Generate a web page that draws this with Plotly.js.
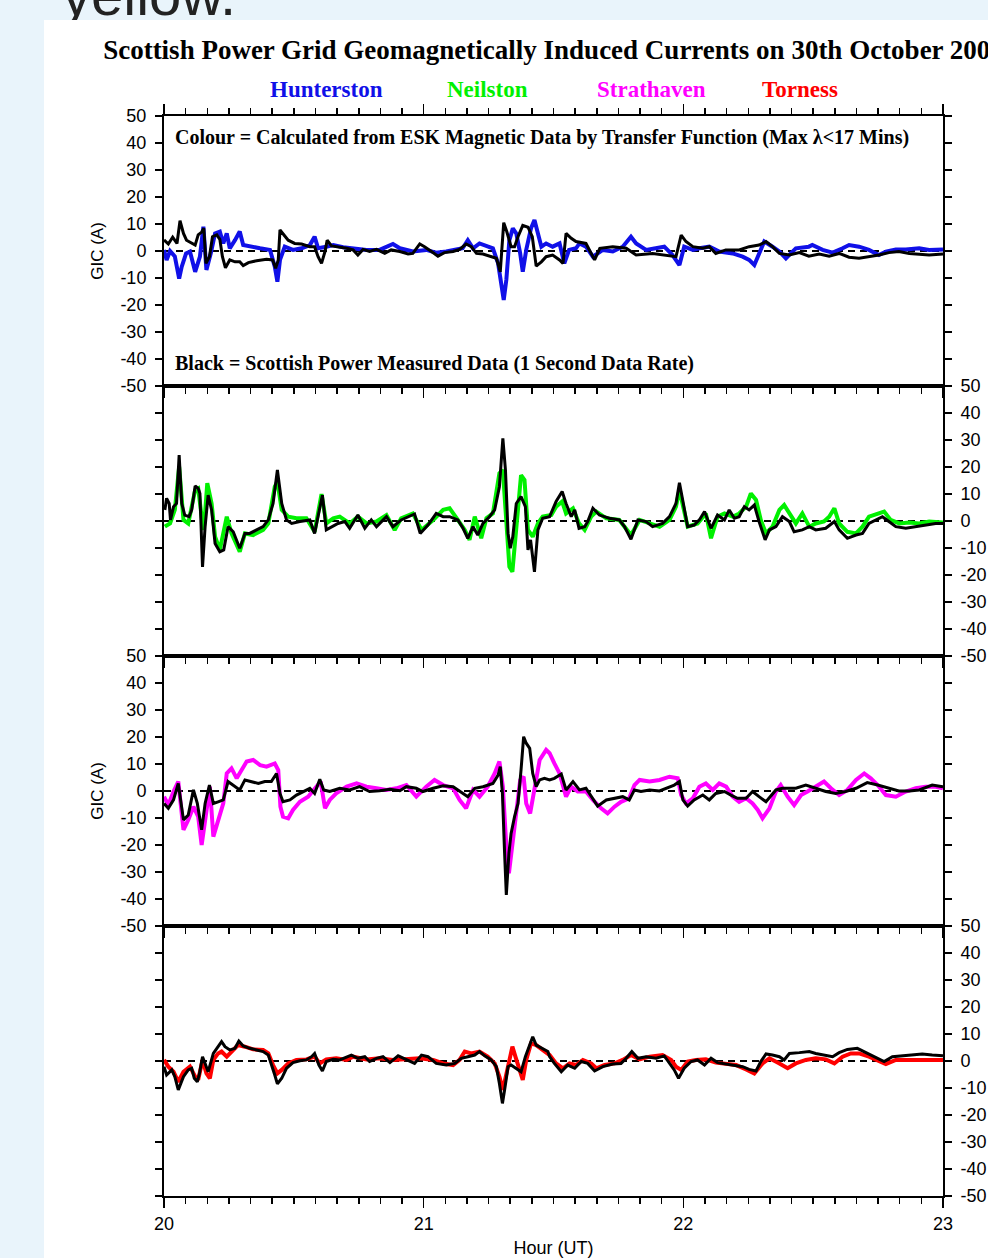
<!DOCTYPE html>
<html>
<head>
<meta charset="utf-8">
<script src="https://cdn.plot.ly/plotly-3.0.1.min.js"></script>
<style>
  html, body { margin: 0; padding: 0; width: 988px; height: 1258px; overflow: hidden; background: #e9f4fb; }
  #yellow { position: absolute; left: 62px; top: -34px; font-family: "Liberation Sans", Arial, sans-serif; font-size: 58px; line-height: 58px; color: #222; white-space: nowrap; }
  #sheet { position: absolute; left: 44px; top: 20px; right: 0; bottom: 0; background: #ffffff; }
  #chart { position: absolute; left: 0; top: 0; width: 1100px; height: 1300px; }
</style>
</head>
<body>
<div id="yellow">yellow.</div>
<div id="sheet"></div>
<div id="chart"></div>
<script>
// ---- Data: [minutes after 20:00 UT, GIC in A] ----
const stations = ["Hunterston", "Neilston", "Strathaven", "Torness"];
const stationColours = ["#1010e8", "#00f000", "#ff00ff", "#ff0000"];
const hourTicks = [20, 21, 22, 23];
const gicTicks = [-50, -40, -30, -20, -10, 0, 10, 20, 30, 40, 50];

const hunterstonMeasured = [[0,4.1],[1,2.6],[2,5.1],[3,2.8],[3.7,11.2],[4.5,6.5],[5.2,4],[6.4,2.8],[7.2,2.2],[7.9,6],[8.7,7],[9.2,8.4],[9.7,-4.6],[10.5,-2.1],[11.2,5.3],[12.2,6],[12.9,4.3],[13.5,-2.1],[14.2,-6.2],[15.2,-3.3],[16.4,-4],[17.5,-4],[18.3,-5.4],[19.5,-4.3],[21.4,-3.6],[23.7,-3.1],[25.1,-3.3],[25.8,-6.4],[26.4,-3.3],[26.8,7.8],[27.5,6.5],[28.7,4],[30.2,2.8],[31.8,2.6],[33.7,1.6],[34.8,1.6],[35.6,-2.1],[36.4,-4.6],[37.2,-0.2],[37.7,4],[38.7,1.9],[40.2,1.6],[42.2,1],[43.7,0.4],[44.8,-1.5],[46,0.6],[47.5,-0.2],[49.1,0.6],[51,-0.9],[52.5,0.4],[54.5,-0.2],[56.4,-1.1],[57.5,-0.9],[59.1,2.6],[60.2,1.6],[61.8,-0.2],[63.3,-1.9],[64.8,-0.6],[66.8,-0.2],[68.3,0.6],[69.8,2.6],[71,1.6],[72.2,-0.9],[73.7,-1.1],[75.6,-2.1],[76.8,-2.7],[77.7,-7.7],[78.5,10.5],[79.2,7.2],[80.2,1.6],[81,1.6],[81.8,5.3],[82.9,9.5],[84.1,8.8],[85.1,5.3],[86,-5.6],[87.2,-4],[88.3,-2.1],[89.8,-1.5],[91.4,-3.3],[92.2,-4.6],[92.9,6.5],[94.1,4.7],[95.2,3.5],[97.5,2.8],[99.5,-3.3],[100.7,1],[103.7,1.6],[106.8,1],[109.1,-1.5],[112.9,-0.9],[116,-1.5],[118.3,-2.1],[119.5,5.9],[120.6,3.5],[122.2,1.6],[124.5,1],[126,1.6],[127.5,-0.9],[129.8,0.4],[132.9,0.4],[135.2,1.6],[137.5,2.2],[139.1,3.5],[140.6,1.6],[142.2,-0.9],[144.5,-1.5],[146.8,-0.6],[149,-1.9],[151.4,-1.1],[153.7,-1.9],[156,-0.9],[158.3,-2.3],[160.6,-2.7],[162.9,-2.1],[165.2,-1.5],[167.5,-0.6],[169.8,-0.2],[172.2,-0.9],[174.5,-1.1],[176.8,-1.5],[180,-1.1]];

const hunterstonCalculated = [[0,0.4],[0.6,-3.3],[1.4,0],[2.5,-2],[3.5,-10.2],[4.1,-5.8],[5.1,-0.9],[6,-0.2],[7.2,-7.7],[8.3,-2.1],[9.1,9],[9.8,-7],[10.8,-0.9],[11.8,6.5],[12.9,7.2],[13.7,2.8],[14.5,6.5],[15.2,1],[16.4,4],[17.5,7.2],[18.3,2.2],[19.8,1.6],[22.2,1],[24.5,0.4],[25.6,-5.8],[26.2,-11.4],[26.8,-3.3],[27.9,1.6],[29.8,0.4],[31.8,1],[33.7,2.2],[34.8,5.3],[35.6,1],[37.5,1.6],[39.1,2.2],[41.4,1.4],[43.7,1],[46.8,0.4],[49.8,0.4],[52.9,2.6],[54.5,1],[57.5,-0.2],[60.6,0.4],[62.9,-0.6],[65.2,-0.2],[67.5,0.4],[69,1],[70.2,4],[71.4,1],[72.9,2.8],[74.5,1.9],[76,1],[77.2,-4.6],[77.9,-13.2],[78.5,-18.1],[79.1,-10.7],[79.8,4],[80.6,8.4],[81.4,6.5],[82.3,-0.9],[82.9,-7.7],[83.7,0.4],[84.8,8.4],[85.6,11.5],[86.4,6.5],[87.2,1.6],[88.3,2.8],[89.8,1.6],[91.4,2.8],[92.5,-4.6],[93.6,0.4],[95.2,1],[96,2.8],[97.5,1.6],[99.1,-2.1],[101.4,0.4],[103.7,-0.2],[106,1.6],[107.9,5.3],[109.1,2.8],[111.4,0.4],[113.7,1],[115.6,1.6],[117.5,-1.5],[119.1,-5.2],[120.2,1.6],[122.2,0.4],[123.7,1],[126,1.6],[128.3,-0.2],[131.4,-0.9],[133.7,-2.1],[135.2,-3.3],[136.4,-5.2],[137.5,-0.9],[138.7,3.5],[140.6,1.6],[142.2,-0.2],[143.7,-2.7],[146,1],[149,1.6],[149.8,2.2],[152.2,0.4],[154.5,-0.6],[156.8,1],[158.3,2.2],[160.6,1.6],[162.9,0.4],[165.2,-1.5],[166.8,-0.2],[169.1,0.6],[171.4,0.6],[174.5,1],[176.8,0.4],[180,0.6]];

const neilstonMeasured = [[0.2,4.1],[0.6,8.4],[1.2,6.5],[1.5,0.4],[2.2,5.3],[2.9,6.5],[3.5,24.4],[4.1,6.5],[4.8,2.2],[5.8,1.6],[6.4,4.1],[7.2,13],[7.9,12.1],[8.3,10.2],[8.9,-17],[9.5,-2.1],[10.2,9.6],[11,4.1],[11.8,-8.3],[12.9,-11.4],[13.8,-10.7],[14.8,-2.1],[16,-4],[16.8,-7],[17.5,-10.1],[18.7,-4.6],[19.8,-4.6],[21.4,-3.3],[22.9,-2.1],[24.1,0.4],[25.2,6.5],[26.2,18.9],[27.2,6.5],[28.3,0.4],[29.5,-0.9],[31.4,-0.2],[33.7,0.4],[34.8,-4.6],[35.6,1.6],[36.6,9.6],[37.5,-3.3],[38.7,-2.1],[40.2,-0.9],[41.8,-0.2],[42.9,-2.7],[44.8,2.2],[46.4,-2.7],[47.9,0.4],[49.1,-2.1],[51.4,1.6],[52.9,-2.1],[54.8,0.4],[56.4,1.6],[57.9,2.6],[59.2,-4.6],[61,-1.5],[62.9,2.8],[64.5,1.6],[66,1.6],[66.8,1],[67.9,0.4],[69.1,-2.7],[70.2,-6.4],[71.4,-2.1],[72.5,-5.2],[73.7,-0.9],[75.2,1.6],[76.4,4.1],[77.5,12.7],[78.3,30.6],[78.9,18.9],[79.5,-4.6],[80,-10.1],[80.6,-5.8],[81.4,6.5],[82.5,9],[83.5,5.3],[84.1,-10.7],[84.7,-7],[85.6,-18.8],[86.4,-3.3],[87.5,1],[89.1,1.6],[90.6,7.2],[92,10.9],[92.9,6.5],[94.1,1.6],[94.9,4.1],[95.9,-2.7],[97.2,-2.1],[97.9,-0.2],[99.1,4.7],[100.6,2.2],[102.9,1],[105.2,0.4],[106.4,-2.1],[107.9,-6.8],[109.5,0.4],[111.4,-0.2],[112.9,-2.1],[115.2,-0.9],[116.8,1.6],[118.3,6.5],[119.1,14.2],[119.9,7.8],[121,-2.1],[122.5,-1.5],[123.7,0.4],[124.9,3.5],[126.4,-2.7],[127.9,2.2],[129.5,0.4],[130.6,4.1],[131.8,1],[132.9,1.6],[134.1,5.3],[135.2,4.1],[136.4,5.9],[137.5,-0.2],[138.9,-7],[139.9,-3.3],[141.4,-2.1],[142.9,1.6],[144.5,-0.2],[145.6,-4],[147.5,-3.3],[149.1,-2.1],[150.6,-3.3],[152.9,-2.7],[154.9,-0.2],[156,-3.3],[157.9,-6.4],[159.9,-5.2],[161.4,-4.6],[162.9,-0.9],[164.5,0.4],[166,1.6],[167.5,-0.2],[169.1,-2.1],[171.4,-2.7],[173.7,-2.1],[176,-1.5],[178.3,-0.9],[180,-0.9]];

const neilstonCalculated = [[0.2,-2.1],[1.4,-0.9],[2.5,4.1],[3.5,20.1],[4.5,0.4],[5.6,-0.9],[7.2,11.5],[7.9,12.1],[8.7,1.6],[9.2,-3.3],[10,14],[11,6.5],[11.8,-5.8],[12.9,-10.7],[14.5,1.6],[15.6,-4.6],[17.5,-11.4],[18.7,-4.6],[20.6,-5.2],[22.9,-3.3],[24.1,-0.9],[25.6,12.7],[26.2,14.6],[27.2,4.1],[28.7,1.6],[30.6,1],[32.9,1],[34.8,-4],[36.4,10],[37.5,-0.9],[39.1,1],[40.6,1.6],[42.9,-0.9],[44.8,1.6],[46.8,-0.9],[49.1,-0.2],[51.4,2.2],[53.3,-3.3],[54.8,1],[57.5,2.8],[59.5,-3.3],[62.2,0.4],[64.5,4.1],[66,4.7],[67.9,0.4],[69.5,-3.3],[70.6,-7],[71.8,1.6],[73.3,-6.4],[74.5,1],[76,2.8],[77.5,17.7],[78.3,18.9],[79.1,-3.3],[79.8,-16.9],[80.5,-18.8],[81.4,-3.3],[82.5,17],[83.3,15.2],[84.1,-3.3],[85.2,-5.8],[86.4,-0.9],[87.5,1.6],[89.5,2.2],[90.6,5.3],[92,7.2],[92.9,2.8],[94.5,4.7],[95.9,-0.9],[97.2,-3.3],[98.7,1.6],[99.9,3.5],[102.2,1],[105.2,0.4],[107.9,-5.2],[109.9,0.4],[112.2,-0.9],[114.5,-2.1],[116.8,0.4],[118.3,5.3],[119.1,11.5],[119.9,5.3],[121,-2.1],[123.3,-0.9],[125.2,2.8],[126.4,-6.4],[127.9,1.6],[129.5,2.8],[131.4,1.6],[132.9,2.8],[134.5,5.3],[135.6,10.2],[136.8,7.8],[137.9,0.4],[139.1,-4.6],[140.6,-2.1],[142.2,4.1],[143.3,5.9],[144.9,1.6],[146,-0.9],[147.5,2.8],[149.1,-2.1],[150.6,-0.9],[152.5,-0.2],[153.7,1.6],[154.9,4.7],[156,-0.9],[157.9,-4],[159.9,-4.6],[161.4,-2.1],[162.9,1.6],[164.8,2.8],[166.4,3.5],[167.9,0.4],[169.9,-0.9],[172.2,-0.6],[174.5,-0.9],[176.8,-0.2],[180,-0.6]];

const strathavenMeasured = [[0,-4.6],[1,-6.4],[2.2,-3.3],[3.3,2.8],[4.5,-10.7],[5.6,-8.9],[6.8,0.4],[7.7,-4.6],[8.7,-14.4],[9.5,-4.6],[10.5,2.2],[11.4,-4.6],[12.5,-4],[13.7,-3.3],[14.8,3.5],[16,2.2],[17.5,0.4],[18.7,4.1],[20.2,3.5],[21.8,2.8],[23.3,3.5],[24.8,3.5],[26,6.5],[26.8,-0.9],[27.5,-4],[29.1,-3.3],[30.6,-1.5],[32.2,-0.2],[33.7,1],[34.8,-0.9],[36,4.3],[36.9,0.4],[38.3,-0.2],[40.6,1],[42.9,0.4],[45.2,1.6],[47.5,-0.2],[49.8,0.1],[52.2,0.6],[54.5,0.1],[56,1.6],[58.3,1],[59.8,-0.2],[62.2,1],[64.5,1.9],[66.8,1.6],[69.1,-0.9],[70.2,-2.1],[71.8,1],[73.7,1.6],[76,2.8],[77.2,5.9],[77.7,9],[78.2,-0.9],[78.7,-23],[79.1,-38.5],[79.7,-23],[80.2,-15.7],[81,-9.5],[81.8,-4.6],[82.5,7.8],[83.1,20.1],[83.7,17.7],[84.5,15.8],[85.2,6.5],[86,1.6],[86.8,4.1],[87.9,4.7],[89.1,4.1],[90.2,4.7],[91.8,6.3],[92.9,0.4],[94.5,3.5],[96,0.4],[97.5,1],[98.7,-2.1],[100.2,-5.6],[102.2,-3.3],[104.5,-2.7],[106,-2.1],[107.5,-3.3],[108.7,0.4],[110.2,-0.2],[112.2,0.4],[114.5,0],[116.8,1.6],[117.9,2.2],[119.1,3.5],[119.9,-3.3],[121,-5.6],[122.5,-3.3],[124.5,-1.5],[126,-3.3],[127.5,-0.9],[129.5,-0.2],[131,-1.5],[132.5,-2.7],[134.5,-2.7],[136,-0.2],[137.5,-2.1],[139.1,-4],[141.4,0.4],[142.9,1],[146,1],[148.3,2.2],[150.6,1],[152.9,-0.2],[155.2,-0.9],[157.5,-0.2],[159.9,1],[162.5,3.1],[164.9,2.2],[167.5,1],[169.8,0],[172.2,0],[174.5,0.4],[177.5,2.2],[180,1.6]];

const strathavenCalculated = [[0,-2.1],[1,-5.2],[2.2,-0.2],[3.3,3.5],[4.5,-14.4],[5.6,-10.7],[6.8,-5.8],[7.9,-9.5],[8.7,-20],[9.8,-8.3],[10.6,1.6],[11.4,-16.9],[12.5,-10.7],[13.7,-4.6],[14.5,6.5],[15.6,8.4],[16.8,4.7],[17.9,7.8],[19.1,10.9],[20.6,11.5],[22.2,9.6],[23.7,9],[25.6,10.2],[26.4,7.8],[26.9,-5.8],[27.5,-9.5],[28.7,-10.1],[29.8,-7],[31.4,-4],[33.3,-2.1],[35.2,1.6],[36.2,3.5],[37.2,-6.4],[38.3,-3.3],[39.8,-0.9],[42.2,1.6],[44.5,2.8],[46.8,1.6],[49.1,1],[51.4,0.4],[53.7,1],[56,2.2],[58.3,-2.1],[60.6,1.6],[62.5,4.1],[64.5,2.2],[66.8,1],[68.3,-3.3],[69.8,-6.4],[71.4,0.4],[72.9,-2.1],[74.8,1.6],[76.4,6.5],[77.5,10.9],[78.3,1.6],[79.1,-20.6],[79.7,-30.5],[80.5,-20.6],[81.4,-7],[82.3,4.1],[83.1,5.3],[83.7,-4.6],[84.6,-8.3],[85.6,1.6],[86.8,11.5],[88.3,15.2],[89.1,14],[90.2,10.2],[91.4,6.5],[92.9,-2.1],[94.1,1.6],[95.6,-0.2],[97.5,-0.2],[99.1,-3.3],[101,-6.4],[102.5,-8.3],[104.1,-5.8],[105.6,-4],[107.5,-2.7],[108.7,2.2],[109.9,4.1],[112.2,3.5],[114.5,4.1],[116.8,5.3],[118.7,4.7],[119.5,-1.5],[120.6,-4.6],[122.2,-2.7],[123.7,1.6],[125.2,2.8],[126.8,0.4],[128.3,2.8],[129.9,1.6],[131.4,-2.1],[132.9,-4],[134.5,-2.7],[136,-4.6],[137.2,-7],[138.3,-10.1],[139.9,-6.4],[141.4,-0.2],[142.5,2.2],[144.1,-2.1],[145.6,-5.2],[147.2,-1.5],[148.7,-0.2],[150.6,1.6],[152.5,3.5],[154.1,1],[156,-1.5],[157.9,0.4],[159.9,4.1],[161.8,6.5],[163.3,4.7],[164.9,2.2],[166.8,-1.5],[169.1,-2.1],[171.4,-0.2],[173.7,1],[176,1.6],[178.3,1.6],[180,1]];

const tornessMeasured = [[0,-2.1],[0.6,-5.2],[1.8,-3.3],[2.5,-5.8],[3.3,-10.7],[4.5,-5.8],[5.6,-3.3],[6.4,-2.7],[7,-6.4],[7.7,-7.7],[8.2,-4.6],[8.9,1.6],[9.5,-0.9],[10.2,-4],[11.4,2.8],[12.5,5.6],[13.3,7.2],[14.1,5.3],[15.2,4.1],[16.4,4.7],[17.3,7.4],[18.3,5.6],[19.8,4.7],[21.4,4.1],[22.9,3.5],[24.1,2.2],[24.8,-0.9],[25.6,-5.2],[26.2,-8.5],[27.2,-6.4],[28.3,-2.7],[29.8,-0.6],[31.4,0.1],[32.9,0.4],[34.1,1.6],[34.8,2.8],[35.8,-1.5],[36.6,-3.7],[37.5,-0.2],[39.1,0.6],[40.6,0.4],[42.2,1.6],[43.3,2.2],[44.8,1],[46.4,1.6],[47.5,-0.2],[49.1,1],[50.6,1.6],[52.2,-0.6],[54.1,1.9],[56,0.6],[57.9,-0.9],[59.5,2.2],[61,1.6],[62.9,-0.9],[65.2,-1.5],[67.2,-0.9],[68.7,1],[70.2,1.6],[71.8,2.2],[72.9,3.5],[74.1,1.9],[75.6,0.4],[76.8,-2.1],[77.5,-8.3],[78.2,-15.7],[78.7,-10.7],[79.5,-2.1],[80.2,-1.5],[81.4,-2.7],[82.5,-4],[83.5,1.6],[84.4,5.3],[85.2,9],[86,5.9],[87.2,4.7],[88.7,3.5],[89.1,1.6],[90.2,-0.9],[91.8,-4],[93.3,-1.5],[94.9,-2.7],[96.4,-0.2],[97.9,-0.9],[99.5,-3.7],[101.4,-2.1],[103.7,-1.1],[105.6,-0.9],[106.8,1],[108.1,3.5],[109.5,1],[111.4,1.6],[113.7,1],[115.6,1.9],[116.8,-0.9],[117.9,-3.3],[118.9,-6.4],[120.2,-2.7],[121.8,-0.2],[123.3,0.4],[124.9,-1.5],[126.4,1],[127.9,-0.6],[129.9,-1.2],[131.8,-1.5],[133.7,-2.1],[135.2,-3.1],[136.8,-3.7],[137.9,-0.2],[139.1,2.6],[140.6,2.2],[142.2,1.6],[143.3,0.4],[144.5,2.8],[146.8,3.1],[149.1,3.5],[150.6,2.8],[152.5,2.2],[154.5,1.6],[156,3.1],[157.9,4.3],[160.2,4.7],[161.8,3.5],[164.1,1.6],[166.4,-0.2],[168.3,1.6],[170.6,1.9],[172.9,2.2],[175.2,2.6],[177.5,2.2],[180,1.9]];

const tornessCalculated = [[0,0.4],[1,-2.1],[2.2,-4],[3.3,-7.7],[4.5,-4],[6,-2.1],[7.2,-5.8],[7.9,-7],[8.9,0.4],[9.8,-4.6],[10.6,-6.4],[11.4,0.4],[12.5,2.8],[13.3,3.5],[14.5,1.6],[15.6,3.5],[17.1,5.9],[18.7,5.3],[20.6,4.3],[22.9,4.1],[24.1,2.8],[25.2,-1.5],[26.2,-4.6],[27.2,-3.3],[28.7,-0.9],[30.6,0.4],[32.9,0.6],[34.8,1.6],[36,-0.9],[37.5,0.6],[39.8,1],[42.2,0.4],[43.7,1.6],[46.8,0.6],[49.8,1],[52.9,0.4],[55.9,0.6],[59.1,1],[62.2,0.4],[64.5,-0.9],[66.8,-1.5],[68.3,0.4],[69.5,3.5],[71,2.8],[72.9,3.5],[74.8,1.6],[76.4,-0.9],[77.5,-5.8],[78.3,-10.7],[79.1,-5.2],[79.7,0.4],[80.5,5.3],[81.2,1.6],[82,-2.1],[82.9,-7],[83.7,0.4],[84.8,6.5],[86,5.9],[87.5,4.1],[89.1,2.2],[90.6,-0.9],[92.2,-2.7],[93.7,-0.9],[95.2,-1.5],[96.8,0.4],[98.7,-0.9],[99.9,-2.7],[101.8,-1.5],[104.1,-0.9],[106,0.4],[107.9,2.2],[109.9,0.6],[112.2,1.6],[115.2,2.2],[117.2,0.4],[118.3,-2.1],[119.5,-3.3],[121,-0.2],[122.9,0.4],[125.2,0.6],[127.5,-0.6],[129.9,-0.9],[132.2,-1.5],[134.5,-3.1],[136.4,-4.6],[138.3,-0.9],[139.9,1],[142.2,-0.9],[144.1,-2.7],[146,-0.9],[148.3,0.4],[150.6,1],[152.9,0.6],[154.9,-0.9],[156.8,1.6],[158.7,2.8],[160.6,2.8],[162.9,1.6],[165.2,-0.2],[166.8,-1.1],[169.1,0.4],[171.4,0.4],[173.7,0.6],[176.8,0.6],[180,0.4]];

const measuredSeries = [hunterstonMeasured, neilstonMeasured, strathavenMeasured, tornessMeasured];
const calculatedSeries = [hunterstonCalculated, neilstonCalculated, strathavenCalculated, tornessCalculated];

// ---- Build figure ----
const toHour = m => 20 + m / 60;
const sansFont = "Liberation Sans, Arial, Helvetica, sans-serif";
const serifFont = "Liberation Serif, Times New Roman, serif";

const traces = [];
for (let i = 0; i < 4; i++) {
  const xa = i === 0 ? "x" : "x" + (i + 1);
  const ya = i === 0 ? "y" : "y" + (i + 1);
  traces.push({
    x: [hourTicks[0], hourTicks[hourTicks.length - 1]], y: [0, 0],
    xaxis: xa, yaxis: ya, mode: "lines", type: "scatter", hoverinfo: "skip",
    line: { color: "black", width: 2, dash: "7px,5px" }, showlegend: false
  });
  traces.push({
    x: calculatedSeries[i].map(p => toHour(p[0])), y: calculatedSeries[i].map(p => p[1]),
    xaxis: xa, yaxis: ya, mode: "lines", type: "scatter", name: stations[i] + " (calculated)",
    line: { color: stationColours[i], width: 4 }, showlegend: false
  });
  traces.push({
    x: measuredSeries[i].map(p => toHour(p[0])), y: measuredSeries[i].map(p => p[1]),
    xaxis: xa, yaxis: ya, mode: "lines", type: "scatter", name: stations[i] + " (measured)",
    line: { color: "black", width: 3 }, showlegend: false
  });
}

const layout = {
  width: 1100, height: 1300,
  margin: { l: 164, r: 157, t: 116, b: 104 },
  paper_bgcolor: "rgba(0,0,0,0)", plot_bgcolor: "rgba(0,0,0,0)",
  showlegend: false,
  font: { family: sansFont, size: 18, color: "black" },
  title: {
    text: "<b>Scottish Power Grid Geomagnetically Induced Currents on 30th October 2003</b>",
    font: { family: serifFont, size: 27, color: "black" },
    x: 0.5, xref: "paper", xanchor: "center",
    y: 1 - 50 / 1300, yref: "container", yanchor: "middle"
  },
  annotations: [],
};

const domains = [[0.75, 1], [0.5, 0.75], [0.25, 0.5], [0, 0.25]];
for (let i = 0; i < 4; i++) {
  const sfx = i === 0 ? "" : String(i + 1);
  layout["xaxis" + sfx] = {
    domain: [0, 1], anchor: "y" + sfx, range: [hourTicks[0], hourTicks[hourTicks.length - 1]],
    tickmode: "array", tickvals: hourTicks, ticktext: hourTicks.map(String),
    ticks: "outside", ticklen: 10, tickwidth: 1.5, tickcolor: "black",
    minor: { dtick: 1 / 12, tick0: 20, ticks: "outside", ticklen: 6, tickwidth: 1.5, tickcolor: "black", showgrid: false },
    showline: true, linewidth: 2, linecolor: "black",
    mirror: i === 0 ? "ticks" : true,
    showgrid: false, zeroline: false,
    showticklabels: i === 3,
    tickfont: { family: sansFont, size: 18 },
    ticklabelstandoff: 0,
    fixedrange: true
  };
  if (i === 3) {
    layout["xaxis" + sfx].title = { text: "Hour (UT)", font: { family: sansFont, size: 18 }, standoff: 9 };
  }
  layout["yaxis" + sfx] = {
    domain: domains[i], anchor: "x" + sfx, range: [gicTicks[0], gicTicks[gicTicks.length - 1]],
    tickmode: "array", tickvals: gicTicks, ticktext: gicTicks.map(String),
    side: (i % 2 === 0) ? "left" : "right",
    ticks: "outside", ticklen: 7, tickwidth: 1.5, tickcolor: "black",
    showline: true, linewidth: 2, linecolor: "black", mirror: "ticks",
    showgrid: false, zeroline: false,
    tickfont: { family: sansFont, size: 18 },
    ticklabelstandoff: 5,
    fixedrange: true
  };
  if (i % 2 === 0) {
    layout["yaxis" + sfx].title = { text: "GIC (A)", font: { family: sansFont, size: 17 }, standoff: 12 };
  }
}

// station labels above the top panel
const labelX = [0.2092, 0.4159, 0.6258, 0.8158];
stations.forEach((s, i) => {
  layout.annotations.push({
    text: "<b>" + s + "</b>", xref: "paper", yref: "paper", x: labelX[i], y: 1.0241,
    xanchor: "center", yanchor: "middle", showarrow: false,
    font: { family: serifFont, size: 23, color: stationColours[i] }
  });
});
layout.annotations.push({
  text: "<b>Colour = Calculated from ESK Magnetic Data by Transfer Function (Max λ<17 Mins)</b>",
  xref: "x", yref: "y", x: 20.035, y: 42.2, xanchor: "left", yanchor: "middle", showarrow: false,
  font: { family: serifFont, size: 20, color: "black" }
});
layout.annotations.push({
  text: "<b>Black = Scottish Power Measured Data (1 Second Data Rate)</b>",
  xref: "x", yref: "y", x: 20.035, y: -41.5, xanchor: "left", yanchor: "middle", showarrow: false,
  font: { family: serifFont, size: 20, color: "black" }
});

Plotly.newPlot("chart", traces, layout, { staticPlot: true, displayModeBar: false });
</script>
</body>
</html>
